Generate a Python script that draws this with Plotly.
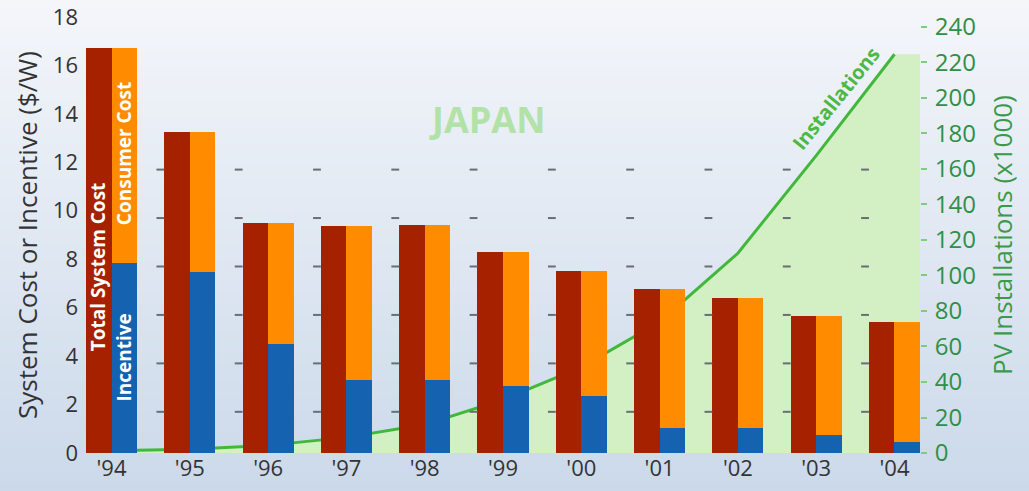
import zlib, struct, base64
import plotly.graph_objects as go

# ---------------- data ----------------
years = ["'94", "'95", "'96", "'97", "'98", "'99", "'00", "'01", "'02", "'03", "'04"]
total_cost = [16.72, 13.25, 9.49, 9.38, 9.42, 8.29, 7.53, 6.76, 6.39, 5.67, 5.41]
incentive = [7.84, 7.49, 4.49, 3.02, 3.02, 2.78, 2.36, 1.05, 1.05, 0.74, 0.44]
consumer_cost = [round(t - i, 2) for t, i in zip(total_cost, incentive)]
installations = [1.2, 2.1, 4.3, 8.8, 16.0, 30.0, 48.4, 73.8, 112.5, 167.5, 224.6]
cost_ticks = [0, 2, 4, 6, 8, 10, 12, 14, 16, 18]
inst_ticks = list(range(0, 241, 20))
stub_ticks = [2, 4, 6, 8, 10, 12]

# ---------------- style ----------------
RED = "#a62100"
BLUE = "#1462b0"
ORANGE = "#ff8c00"
GREEN_LINE = "#42b83a"
GREEN_FILL = "#d3efc4"
GREEN_TEXT = "#2f8f47"
FONT = "Open Sans"

W, H = 1029, 491
L, R, T, B = 86, 109, 17, 38
PW, PH = W - L - R, H - T - B
half = 0.326
pos = list(range(len(years)))
x_lo, x_hi = -half, len(years) - 1 + half


def gradient_png(h, top, bottom, w=4):
    raw = b""
    for r in range(h):
        t = r / (h - 1)
        c = bytes(round(top[k] + (bottom[k] - top[k]) * t) for k in range(3))
        raw += b"\x00" + c * w

    def chunk(tag, data):
        return (struct.pack(">I", len(data)) + tag + data
                + struct.pack(">I", zlib.crc32(tag + data) & 0xffffffff))

    png = (b"\x89PNG\r\n\x1a\n"
           + chunk(b"IHDR", struct.pack(">IIBBBBB", w, h, 8, 2, 0, 0, 0))
           + chunk(b"IDAT", zlib.compress(raw))
           + chunk(b"IEND", b""))
    return "data:image/png;base64," + base64.b64encode(png).decode()


fig = go.Figure()

# installations (primary y, right side) drawn first -> behind bars
fig.add_trace(go.Scatter(
    x=pos + [x_hi], y=installations + [installations[-1]],
    mode="lines", line=dict(width=0, color=GREEN_FILL),
    fill="tozeroy", fillcolor=GREEN_FILL, yaxis="y", hoverinfo="skip",
    showlegend=False))
fig.add_trace(go.Scatter(
    x=pos, y=installations, mode="lines",
    line=dict(color=GREEN_LINE, width=3), yaxis="y", showlegend=False,
    name="Installations"))

# cost bars (secondary y, left side)
fig.add_trace(go.Bar(
    x=pos, y=total_cost, offset=-half, width=half, marker_color=RED,
    marker_line_width=0, yaxis="y2", name="Total System Cost", showlegend=False))
fig.add_trace(go.Bar(
    x=pos, y=incentive, offset=0, width=half, marker_color=BLUE,
    marker_line_width=0, yaxis="y2", name="Incentive", showlegend=False))
fig.add_trace(go.Bar(
    x=pos, y=consumer_cost, base=incentive, offset=0, width=half,
    marker_color=ORANGE, marker_line_width=0, yaxis="y2",
    name="Consumer Cost", showlegend=False))

# small tick stubs in the gaps
shapes = []
for i in pos[1:]:
    for v in stub_ticks:
        shapes.append(dict(type="line", xref="x", yref="y2",
                           x0=i - half - 0.1, x1=i - half,
                           y0=v - 0.3, y1=v - 0.3,
                           line=dict(color="#6a6e74", width=2), layer="above"))

annotations = [
    dict(text="<b>Total System Cost</b>", x=-half / 2, y=7.7, xref="x", yref="y2",
         textangle=-90, showarrow=False, font=dict(family=FONT, size=19, color="white")),
    dict(text="<b>Incentive</b>", x=half / 2, y=3.95, xref="x", yref="y2",
         textangle=-90, showarrow=False, font=dict(family=FONT, size=19, color="white")),
    dict(text="<b>Consumer Cost</b>", x=half / 2, y=12.35, xref="x", yref="y2",
         textangle=-90, showarrow=False, font=dict(family=FONT, size=19, color="white")),
    dict(text="<b>JAPAN</b>", x=487, y=120, xref="paper", yref="paper",
         xanchor="center", yanchor="middle",
         showarrow=False, font=dict(family=FONT, size=36, color="#b3e2a8")),
    dict(text="<b>Installations</b>", x=836, y=99, xref="paper", yref="paper",
         xanchor="center", yanchor="middle",
         textangle=-51, showarrow=False, font=dict(family=FONT, size=20, color="#4cb946")),
]
# convert pixel-based paper annotations to paper fractions
for a in annotations:
    if a["xref"] == "paper":
        a["x"] = (a["x"] - L) / PW
        a["y"] = 1 - (a["y"] - T) / PH

fig.update_layout(
    template="none",
    width=W, height=H,
    margin=dict(l=L, r=R, t=T, b=B, pad=0),
    paper_bgcolor="#e0e7f0", plot_bgcolor="rgba(0,0,0,0)",
    barmode="overlay", bargap=0,
    showlegend=False,
    xaxis=dict(range=[x_lo, x_hi], tickmode="array", tickvals=pos, ticktext=years,
               showgrid=False, zeroline=False, showline=False, ticks="",
               automargin=False,
               tickfont=dict(family=FONT, size=22, color="#333333"), fixedrange=True),
    yaxis=dict(range=[0, 245.6], side="right", tickmode="array", tickvals=inst_ticks,
               showgrid=False, zeroline=False, showline=False, automargin=False,
               ticks="outside", ticklen=6, tickwidth=2, tickcolor="#7ccf7a",
               ticklabelstandoff=3,
               tickfont=dict(family=FONT, size=24, color=GREEN_TEXT),
               title=dict(text="PV Installations (x1000)", standoff=18,
                          font=dict(family=FONT, size=26, color="#3a9a4a"))),
    yaxis2=dict(range=[0, 18], side="left", overlaying="y", tickmode="array",
                tickvals=cost_ticks, showgrid=False, zeroline=False, showline=False,
                ticks="", ticklabelstandoff=7, automargin=False,
                tickfont=dict(family=FONT, size=22, color="#333333"),
                title=dict(text="System Cost or Incentive ($/W)", standoff=7,
                           font=dict(family=FONT, size=26, color="#333333"))),
    shapes=shapes,
    annotations=annotations,
    images=[dict(source=gradient_png(H, (244, 246, 250), (203, 217, 234)),
                 xref="paper", yref="paper", x=-L / PW, y=1 + T / PH,
                 sizex=W / PW, sizey=H / PH, xanchor="left", yanchor="top",
                 sizing="stretch", layer="below")],
)

fig.write_html("out.html",
               config={"displayModeBar": False},
               post_script="document.body.style.margin='0';document.body.style.overflow='hidden';")
